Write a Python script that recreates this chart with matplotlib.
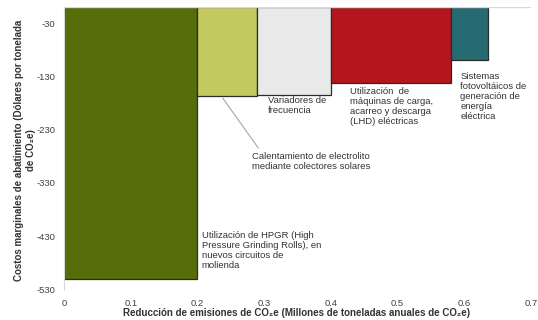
import matplotlib
matplotlib.use("Agg")
import matplotlib.pyplot as plt
import numpy as np

plt.rcParams['font.family'] = ['Liberation Sans', 'DejaVu Sans']
plt.rcParams['axes.unicode_minus'] = False

# Abatement measures (left to right along the cost curve)
measures = [
    "Utilización de HPGR (High\nPressure Grinding Rolls), en\nnuevos circuitos de\nmolienda",
    "Calentamiento de electrolito\nmediante colectores solares",
    "Variadores de\nfrecuencia",
    "Utilización  de\nmáquinas de carga,\nacarreo y descarga\n(LHD) eléctricas",
    "Sistemas\nfotovoltáicos de\ngeneración de\nenergía\neléctrica",
]
# Annual emission reduction (Mt CO2e) = bar widths
reductions = [0.2, 0.09, 0.11, 0.18, 0.055]
# Marginal abatement cost (USD per t CO2e) = bar heights
costs = [-510, -166, -165, -143, -100]
colors = ["#566E0A", "#C3C95E", "#E9E9E9", "#B3161F", "#266B72"]

x_ticks = [0, 0.1, 0.2, 0.3, 0.4, 0.5, 0.6, 0.7]
x_tick_labels = ["0", "0.1", "0.2", "0.3", "0.4", "0.5", "0.6", "0.7"]
y_ticks = [-530, -430, -330, -230, -130, -30]

fig = plt.figure(figsize=(5.38, 3.2), dpi=100)
ax = fig.add_axes([0.119, 0.095, 0.868, 0.883])

lefts = np.concatenate([[0], np.cumsum(reductions)[:-1]])
ax.bar(lefts, costs, width=reductions, align="edge", color=colors,
       edgecolor="#2b2b2b", linewidth=0.9, zorder=2)

ax.set_xlim(0, 0.7)
ax.set_ylim(-530, 0)
ax.set_xticks(x_ticks)
ax.set_xticklabels(x_tick_labels)
ax.set_yticks(y_ticks)
ax.tick_params(axis="both", length=0, labelsize=6.8, colors="#404040")
ax.tick_params(axis="y", pad=6)
ax.tick_params(axis="x", pad=7)

for side in ["top", "right", "bottom"]:
    ax.spines[side].set_visible(False)
ax.spines["left"].set_color("#d9d9d9")
ax.spines["left"].set_linewidth(0.8)
ax.axhline(0, color="#d9d9d9", linewidth=1.0, zorder=3)

# Measure labels (x, y of the top-left corner in data units)
label_pos = [(0.2065, -420), (0.282, -272), (0.306, -167), (0.429, -150), (0.594, -122)]
for text, (lx, ly) in zip(measures, label_pos):
    ax.text(lx, ly, text, ha="left", va="top", fontsize=6.8,
            color="#333333", linespacing=1.15)

# Leader line for the solar heating measure
ax.plot([0.238, 0.291], [-171, -264], color="#9a9a9a", linewidth=0.7, zorder=1)

fig.text(25 / 538, 1 - 150 / 320,
         "Costos marginales de abatimiento (Dólares por tonelada\nde CO₂e)",
         rotation=90, ha="center", va="center", fontsize=7,
         fontweight="bold", color="#333333", linespacing=1.2)
fig.text(297 / 538, 1 - 313 / 320,
         "Reducción de emisiones de CO₂e (Millones de toneladas anuales de CO₂e)",
         ha="center", va="center", fontsize=7, fontweight="bold", color="#333333")

fig.savefig("out.png", dpi=100)
